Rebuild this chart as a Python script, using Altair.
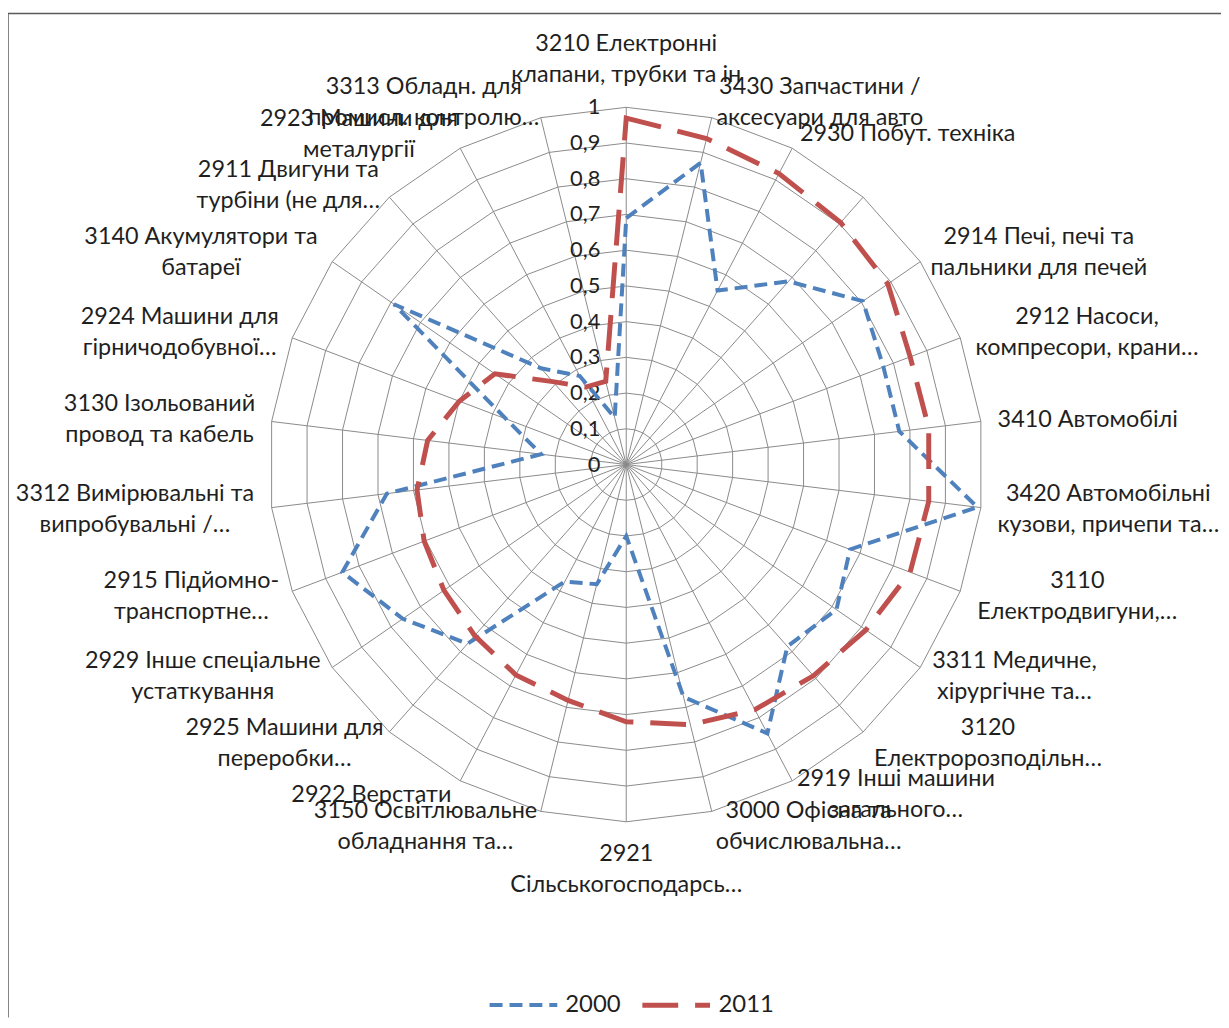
import altair as alt
import pandas as pd

# ---------------- data ----------------
categories = [
    "3210 Електронні\nклапани, трубки та ін",
    "3430 Запчастини /\nаксесуари для авто",
    "2930 Побут. техніка",
    "",
    "2914 Печі, печі та\nпальники для печей",
    "2912 Насоси,\nкомпресори, крани…",
    "3410 Автомобілі",
    "3420 Автомобільні\nкузови, причепи та…",
    "3110\nЕлектродвигуни,…",
    "3311 Медичне,\nхірургічне та…",
    "3120\nЕлектророзподільн…",
    "2919 Інші машини\nзагального…",
    "3000 Офісна та\nобчислювальна…",
    "2921\nСільськогосподарсь…",
    "3150 Освітлювальне\nобладнання та…",
    "2922 Верстати",
    "2925 Машини для\nпереробки…",
    "2929 Інше спеціальне\nустаткування",
    "2915 Підйомно-\nтранспортне…",
    "3312 Вимірювальні та\nвипробувальні /…",
    "3130 Ізольований\nпровод та кабель",
    "2924 Машини для\nгірничодобувної…",
    "3140 Акумулятори та\nбатареї",
    "2911 Двигуни та\nтурбіни (не для…",
    "2923 Машини для\nметалургії",
    "3313 Обладн. для\nпромисл. контролю…",
]
values_2000 = [0.69, 0.87, 0.55, 0.685, 0.805, 0.77, 0.77, 0.99, 0.67, 0.715,
               0.68, 0.85, 0.67, 0.20, 0.345, 0.37, 0.67, 0.76, 0.85, 0.675,
               0.24, 0.36, 0.79, 0.36, 0.28, 0.135]
values_2011 = [0.97, 0.94, 0.92, 0.905, 0.89, 0.85, 0.853, 0.853, 0.85, 0.815,
               0.79, 0.775, 0.75, 0.72, 0.68, 0.665, 0.64, 0.62, 0.605, 0.59,
               0.56, 0.50, 0.447, 0.31, 0.245, 0.24]
years = ["2000", "2011"]
tick_values = [0, 0.1, 0.2, 0.3, 0.4, 0.5, 0.6, 0.7, 0.8, 0.9, 1.0]
tick_labels = ["0", "0,1", "0,2", "0,3", "0,4", "0,5", "0,6", "0,7", "0,8", "0,9", "1"]

# ---------------- layout constants ----------------
N = len(categories)
R = 359.0          # pixels per unit of radius
W, H = 1219, 1012  # plot area (page margin 8)
CX, CY = 621.3, 456.3
FONT = "Lato"
FS = 22            # tick font size
FSG = 24           # legend font size
FSL = 23.5         # category label font size
LH = 31
GAP = 18
GRID = "#8a8a8a"
TEXT = "#1f1f1f"

xs = alt.Scale(domain=[-CX / R, (W - CX) / R], nice=False, zero=False)
ys = alt.Scale(domain=[-(H - CY) / R, CY / R], nice=False, zero=False)


def est_width(s, size=FSL):
    w = 0.0
    for ch in s:
        if ch.isdigit():
            w += 0.58
        elif ch == " ":
            w += 0.2
        elif ch in ",.":
            w += 0.23
        elif ch == "/":
            w += 0.36
        elif ch == "-":
            w += 0.35
        elif ch in "()":
            w += 0.3
        elif ch == "…":
            w += 0.8
        elif ch in "іїІЇ":
            w += 0.25
        elif ch in "мшщжюфМШЩЖЮФ":
            w += 0.76
        elif ch.isupper():
            w += 0.66
        else:
            w += 0.53
    return w * size


series_df = pd.DataFrame(
    [{"year": y, "idx": i, "value": v}
     for y, vals in zip(years, [values_2000, values_2011])
     for i, v in enumerate(vals)]
)
grid_df = pd.DataFrame(
    [{"level": lv, "idx": i} for lv in tick_values[1:] for i in range(N)]
)
spoke_df = pd.DataFrame({"idx": list(range(N))})
label_df = pd.DataFrame({
    "idx": list(range(N)),
    "label": categories,
    "w": [max(est_width(p) for p in c.split("\n")) for c in categories],
    "nlines": [len(c.split("\n")) for c in categories],
})
tick_df = pd.DataFrame({"value": tick_values, "label": tick_labels})

theta = f"2*PI*datum.idx/{N}"

X = alt.X("x:Q", scale=xs, axis=None)
Y = alt.Y("y:Q", scale=ys, axis=None)

rings = alt.Chart(grid_df).transform_calculate(
    x=f"datum.level*sin({theta})", y=f"datum.level*cos({theta})"
).mark_line(interpolate="linear-closed", color=GRID, strokeWidth=1).encode(
    x=X, y=Y, detail="level:N", order="idx:Q"
)

spokes = alt.Chart(spoke_df).transform_calculate(
    x="0", y="0", x1=f"sin({theta})", y1=f"cos({theta})"
).mark_rule(color=GRID, strokeWidth=1).encode(
    x=X, y=Y, x2="x1:Q", y2="y1:Q"
)

ticks = alt.Chart(tick_df).transform_calculate(
    x="0", y="datum.value"
).mark_text(align="right", baseline="middle", dx=-26, font=FONT,
            fontSize=FS, color=TEXT).encode(x=X, y=Y, text="label:N")

legend = alt.Legend(
    title=None, orient="none", legendX=482, legendY=963,
    direction="horizontal", symbolType="stroke", symbolSize=4624,
    symbolStrokeWidth=4, labelFont=FONT, labelFontSize=FSG,
    labelColor=TEXT, labelOffset=6, columnPadding=11, padding=0,
)

lines = alt.Chart(series_df).transform_calculate(
    x=f"datum.value*sin({theta})", y=f"datum.value*cos({theta})"
).mark_line(interpolate="linear-closed").encode(
    x=X, y=Y, order="idx:Q",
    color=alt.Color(
        "year:N",
        scale=alt.Scale(domain=years, range=["#4F81BD", "#C0504D"]),
        legend=legend,
    ),
    strokeDash=alt.StrokeDash(
        "year:N",
        scale=alt.Scale(domain=years, range=[[13, 7], [36, 17]]),
        legend=legend,
    ),
    strokeWidth=alt.StrokeWidth(
        "year:N", scale=alt.Scale(domain=years, range=[4.0, 5.0]), legend=None
    ),
)

labels = alt.Chart(label_df).transform_calculate(
    s=f"sin({theta})", c=f"cos({theta})"
).transform_calculate(
    side="abs(datum.s) < 0.01 ? 0 : (datum.s > 0 ? 1 : -1)",
    up=f"(datum.nlines - 1)*{LH}/2/{R}",
).transform_calculate(
    x=f"datum.s + datum.side*({GAP}*abs(datum.s) + datum.w/2)/{R}",
    y=(f"datum.up + (datum.side == 0 ? datum.c + (datum.c > 0 ? 1 : -1)*(datum.nlines*{LH}/2 + 17)/{R}"
       f" : datum.c*(1 + 16/{R}))"),
).mark_text(align="center", baseline="middle", lineBreak="\n", lineHeight=LH,
            font=FONT, fontSize=FSL, color=TEXT).encode(x=X, y=Y, text="label:N")

frame_df = pd.DataFrame({"k": [0]})
frame_top = alt.Chart(frame_df).mark_rule(color="#5a5a5a", strokeWidth=1.5).encode(
    x=alt.value(0), x2=alt.value(W), y=alt.value(3)
)
frame_left = alt.Chart(frame_df).mark_rule(color="#5a5a5a", strokeWidth=1.5).encode(
    x=alt.value(0), y=alt.value(3), y2=alt.value(H)
)

chart = alt.layer(
    rings, spokes, ticks, lines, labels, frame_top, frame_left
).properties(
    width=W, height=H, padding=0,
    autosize=alt.AutoSizeParams(type="none"),
    background="white",
).configure_view(stroke=None)

chart.save("out.html", embed_options={"renderer": "svg", "actions": False})
